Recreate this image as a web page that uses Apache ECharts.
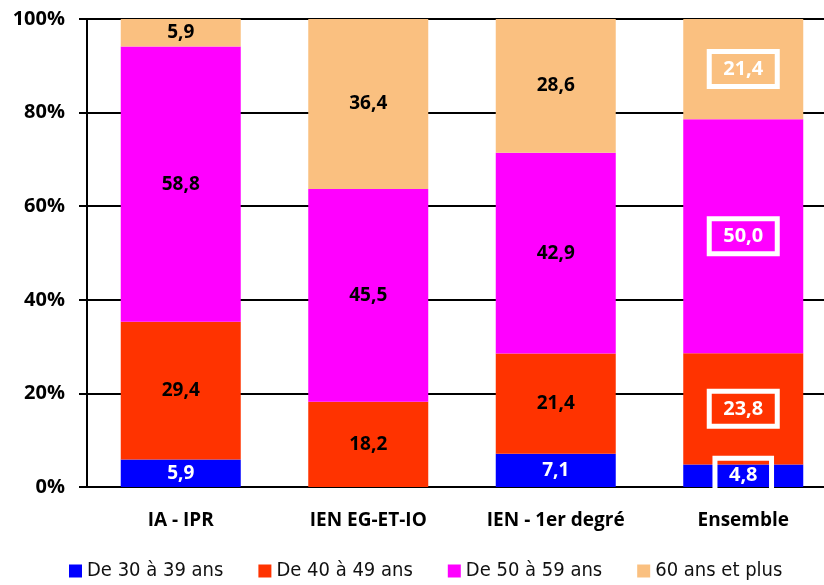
<!DOCTYPE html>
<html><head><meta charset="utf-8">
<script src="https://cdn.jsdelivr.net/npm/echarts@6/dist/echarts.min.js"></script>
<style>html,body{margin:0;padding:0;background:#fff;overflow:hidden;width:824px;height:585px}#c{width:837px;height:585px}</style>
</head><body><div id="c"></div>
<script>
const categories = ['IA - IPR', 'IEN EG-ET-IO', 'IEN - 1er degré', 'Ensemble'];
const seriesNames = ['De 30 à 39 ans', 'De 40 à 49 ans', 'De 50 à 59 ans', '60 ans et plus'];
const s30 = [5.9, 0, 7.1, 4.8];
const s40 = [29.4, 18.2, 21.4, 23.8];
const s50 = [58.8, 45.5, 42.9, 50.0];
const s60 = [5.9, 36.4, 28.6, 21.4];
const yTicks = [0, 20, 40, 60, 80, 100];

const colors = ['#0000FF', '#FF3300', '#FF00FF', '#FAC080'];
const FONT = '"Open Sans", "Liberation Sans", sans-serif';
const fmt = v => v === 0 ? '' : v.toFixed(1).replace('.', ',');

function mk(name, vals, color, txtColor) {
  return {
    name, type: 'bar', stack: 'a', barWidth: '64%',
    itemStyle: { color },
    data: vals.map((v, i) => {
      const d = { value: v };
      if (i === 3) {
        d.label = {
          color: '#fff', borderColor: '#fff', borderWidth: 5,
          padding: [9, 14, 6, 14], fontSize: 20
        };
      }
      return d;
    }),
    label: {
      show: true, position: 'inside', color: txtColor,
      fontFamily: FONT, fontWeight: 'bold', fontSize: 19,
      formatter: p => fmt(p.value)
    }
  };
}

const chart = echarts.init(document.getElementById('c'));
chart.setOption({
  animation: false,
  textStyle: { fontFamily: FONT },
  grid: { left: 87, top: 19, right: 0, bottom: 98, containLabel: false },
  legend: {
    bottom: -1, left: 64, itemWidth: 13, itemHeight: 13, itemGap: 35,
    icon: 'rect',
    textStyle: { fontSize: 20, color: '#111', fontFamily: '"Liberation Sans Narrow", "DejaVu Sans Condensed", "Liberation Sans", sans-serif' },
    data: seriesNames
  },
  xAxis: {
    type: 'category', data: categories,
    axisLine: { lineStyle: { color: '#000', width: 2 } },
    axisTick: { show: false },
    axisLabel: { color: '#000', fontWeight: 'bold', fontSize: 19, margin: 24, fontFamily: FONT }
  },
  yAxis: {
    type: 'value', min: yTicks[0], max: yTicks[yTicks.length - 1], interval: 20,
    axisLine: { show: true, lineStyle: { color: '#000', width: 2 } },
    axisTick: { show: true, length: 8, lineStyle: { color: '#000', width: 2 } },
    splitLine: { lineStyle: { color: '#000', width: 2 } },
    axisLabel: { color: '#000', fontWeight: 'bold', fontSize: 20, margin: 22, formatter: '{value}%', fontFamily: FONT }
  },
  series: [
    mk(seriesNames[0], s30, colors[0], '#fff'),
    mk(seriesNames[1], s40, colors[1], '#000'),
    mk(seriesNames[2], s50, colors[2], '#000'),
    mk(seriesNames[3], s60, colors[3], '#000')
  ]
});
</script></body></html>
